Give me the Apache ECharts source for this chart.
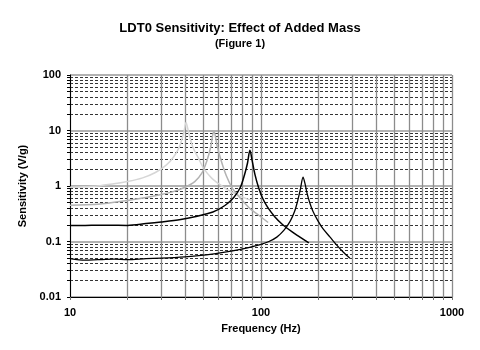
<!DOCTYPE html>
<html>
<head>
<meta charset="utf-8">
<script src="https://cdn.jsdelivr.net/npm/echarts@6/dist/echarts.min.js"></script>
<style>
  html, body { margin: 0; padding: 0; background: #fff; }
  #chart { width: 480px; height: 350px; }
</style>
</head>
<body>
<div id="chart"></div>
<script>
// tick / grid values
const xLabelTicks = [10, 100, 1000];
const xMinorTicks = [10, 20, 30, 40, 50, 60, 70, 80, 90, 100, 200, 300, 400, 500, 600, 700, 800, 900, 1000];
const yDecades = [0.01, 0.1, 1, 10, 100];
const yMinorTicks = [0.02, 0.03, 0.04, 0.05, 0.06, 0.07, 0.08, 0.09,
  0.2, 0.3, 0.4, 0.5, 0.6, 0.7, 0.8, 0.9,
  2, 3, 4, 5, 6, 7, 8, 9,
  20, 30, 40, 50, 60, 70, 80, 90];

// curve A (lightest grey), resonance ~40 Hz
const freqA = [10, 12, 14, 17, 20, 24, 28, 32, 35, 37.5, 39.5, 40.5, 42, 44, 47, 50, 55, 60, 67, 75, 85, 90];
const sensA = [0.95, 0.97, 1.0, 1.1, 1.2, 1.4, 1.75, 2.4, 3.4, 5.2, 9.5, 14, 8.5, 5.0, 3.2, 2.1, 1.4, 1.1, 0.85, 0.7, 0.58, 0.55];

// curve B (mid grey), resonance ~57 Hz
const freqB = [10, 14, 20, 25, 30, 35, 40, 45, 49, 52, 54.5, 56.7, 59, 62, 66, 71, 78, 87, 97, 109];
const sensB = [0.45, 0.47, 0.55, 0.62, 0.70, 0.80, 0.95, 1.2, 1.7, 2.8, 5.0, 9.8, 5.2, 2.8, 1.5, 0.9, 0.6, 0.4, 0.3, 0.22];

// curve C (black), resonance ~87 Hz
const freqC = [10, 12, 14, 16, 20, 25, 30, 38, 45, 56, 65, 72, 78, 82, 85, 87.5, 90, 93, 97, 102, 108, 118, 130, 145, 160, 178];
const sensC = [0.195, 0.195, 0.197, 0.196, 0.195, 0.21, 0.225, 0.25, 0.28, 0.34, 0.45, 0.62, 0.95, 1.6, 2.6, 4.4, 2.8, 1.6, 0.95, 0.6, 0.42, 0.28, 0.2, 0.15, 0.12, 0.094];

// curve D (black), resonance ~166 Hz
const freqD = [10, 12, 14, 17, 20, 25, 30, 40, 50, 60, 71, 85, 99, 110, 121, 132, 142, 150, 156, 161, 166, 170, 174, 180, 187, 198, 211, 230, 250, 270, 292];
const sensD = [0.049, 0.046, 0.047, 0.048, 0.047, 0.049, 0.05, 0.053, 0.057, 0.062, 0.068, 0.077, 0.088, 0.10, 0.12, 0.16, 0.23, 0.35, 0.56, 0.9, 1.45, 1.1, 0.75, 0.5, 0.35, 0.24, 0.17, 0.12, 0.085, 0.064, 0.05];

const pairs = (xs, ys) => xs.map((x, i) => [x, ys[i]]);

const font = 'Arial, "Liberation Sans", sans-serif';

let myChart = echarts.init(document.getElementById('chart'));

const makeLine = (name, xs, ys, color, width) => ({
  name: name,
  type: 'line',
  data: pairs(xs, ys),
  showSymbol: false,
  smooth: 0.3,
  lineStyle: { color: color, width: width },
  silent: true,
  z: 5
});

const options = {
  animation: false,
  title: {
    text: 'LDT0 Sensitivity: Effect of Added Mass',
    subtext: '(Figure 1)',
    left: 'center',
    top: 17,
    itemGap: 3,
    textStyle: { fontFamily: font, fontSize: 13, fontWeight: 'bold', color: '#000' },
    subtextStyle: { fontFamily: font, fontSize: 11, fontWeight: 'bold', color: '#000' }
  },
  grid: { left: 70, right: 28, top: 75, bottom: 53 },
  xAxis: {
    type: 'log',
    logBase: 10,
    min: 10,
    max: 1000,
    name: 'Frequency (Hz)',
    nameLocation: 'middle',
    nameGap: 26,
    nameTextStyle: { fontFamily: font, fontSize: 11, fontWeight: 'bold', color: '#000' },
    axisLine: { lineStyle: { color: '#000', width: 1 } },
    axisTick: { customValues: xMinorTicks, length: 3, lineStyle: { color: '#777' } },
    axisLabel: { customValues: xLabelTicks, margin: 10, fontFamily: font, fontSize: 11, fontWeight: 'bold', color: '#000',
      formatter: v => String(v) },
    splitLine: { show: true, lineStyle: { color: '#8c8c8c', width: 1.3 } },
    minorTick: { show: false },
    minorSplitLine: { show: false }
  },
  yAxis: [
    {
      type: 'log',
      logBase: 10,
      min: 0.01,
      max: 100,
      name: 'Sensitivity (V/g)',
      nameLocation: 'middle',
      nameGap: 34,
      nameTextStyle: { fontFamily: font, fontSize: 11, fontWeight: 'bold', color: '#000' },
      axisLine: { lineStyle: { color: '#000', width: 1 } },
      axisTick: { customValues: yDecades, length: 3, lineStyle: { color: '#000' } },
      axisLabel: { customValues: yDecades, margin: 9, fontFamily: font, fontSize: 11, fontWeight: 'bold', color: '#000',
        formatter: v => String(v) },
      splitLine: { show: true, lineStyle: { color: '#999', width: 1.5 } }
    },
    {
      type: 'log',
      logBase: 10,
      min: 0.01,
      max: 100,
      position: 'left',
      axisLine: { show: false },
      axisTick: { customValues: yMinorTicks, length: 3, lineStyle: { color: '#000' } },
      axisLabel: { show: false },
      splitLine: { show: true, lineStyle: { color: '#333', width: 1, type: [3, 2] } }
    }
  ],
  series: [
    makeLine('A', freqA, sensA, '#d6d6d6', 1.5),
    makeLine('B', freqB, sensB, '#b2b2b2', 1.5),
    makeLine('C', freqC, sensC, '#000', 1.5),
    makeLine('D', freqD, sensD, '#000', 1.3)
  ]
};

myChart.setOption(options);
</script>
</body>
</html>
